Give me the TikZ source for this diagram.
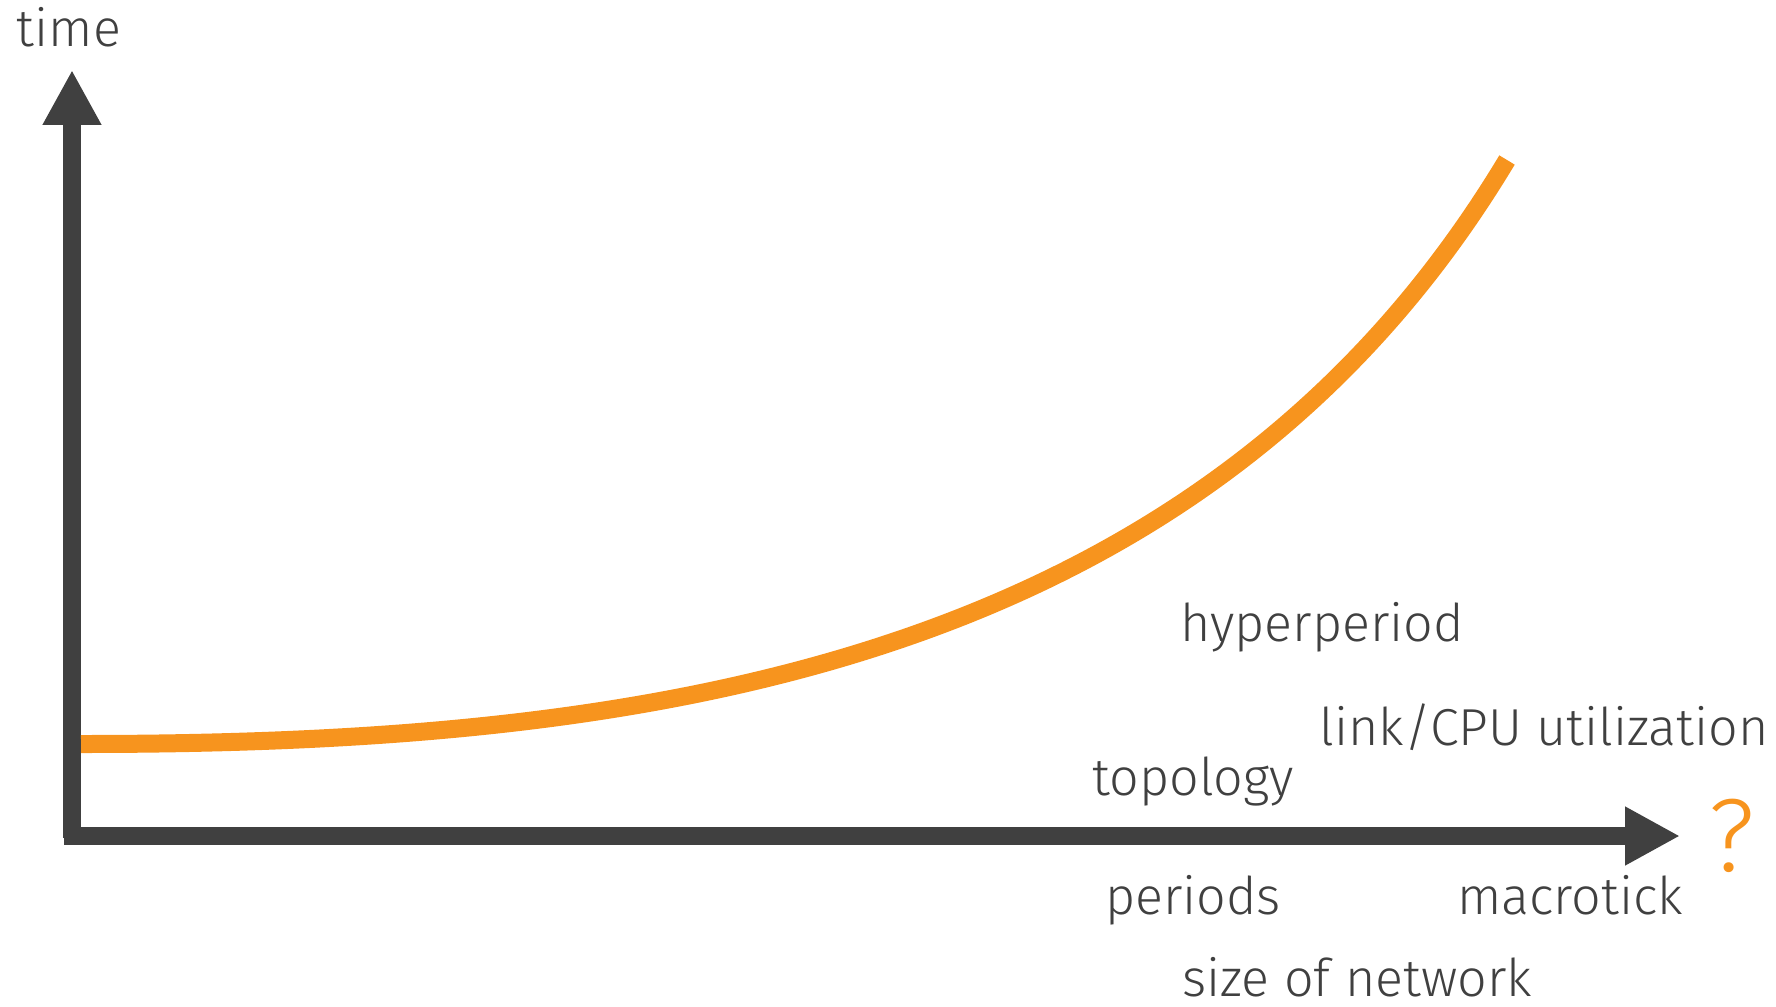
\documentclass[tikz,border=0pt]{standalone}
\usepackage{fontspec}
\setmainfont{Fira Sans Light}
\usetikzlibrary{arrows.meta}
\definecolor{axisgray}{HTML}{404040}
\definecolor{curveorange}{HTML}{F7941E}
\tikzset{
  axisline/.style={draw=axisgray, line width=9pt, -{Triangle[length=27.5pt,width=27.5pt]}},
  curveline/.style={draw=curveorange, line width=9pt, line cap=butt},
  lbl/.style={text=axisgray, font=\fontsize{26}{30}\selectfont, anchor=base, inner sep=0pt},
  qmark/.style={text=curveorange, font=\fontsize{52}{60}\selectfont, anchor=base, inner sep=0pt}
}
\begin{document}
\begin{tikzpicture}[x=0.5pt,y=-0.5pt]
\useasboundingbox (0,0) rectangle (1776,1006);
\coordinate (origin) at (72,838);
\coordinate (ytip) at (72,70);
\coordinate (xstart) at (64,836);
\coordinate (xtip) at (1680,836);
\coordinate (cstart) at (81,744);
\coordinate (cend) at (1507,160);
\draw[axisline] (origin) -- (ytip);
\draw[axisline] (xstart) -- (xtip);
\draw[curveline] (cstart) .. controls (631,744) and (1198,674) .. (cend);
\node[lbl] (time) at (69,47) {time};
\node[lbl] (hyper) at (1322,641) {hyperperiod};
\node[lbl] (link) at (1544,745) {link/CPU utilization};
\node[lbl] (topo) at (1193,795) {topology};
\node[lbl] (periods) at (1193,914) {periods};
\node[lbl] (macro) at (1570,914) {macrotick};
\node[lbl] (size) at (1357,996) {size of network};
\node[qmark] (q) at (1732,871) {?};
\end{tikzpicture}
\end{document}
